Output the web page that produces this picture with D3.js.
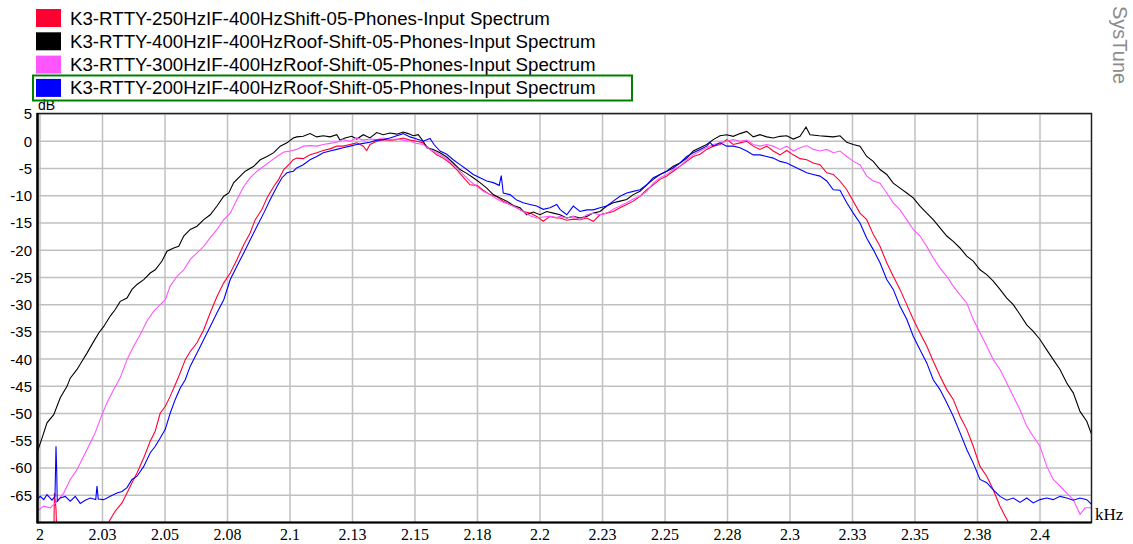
<!DOCTYPE html>
<html>
<head>
<script src="https://d3js.org/d3.v7.min.js"></script>
<style>
body { margin: 0; background: #fff; }
svg text { font-family: "Liberation Sans", Arial, sans-serif; }
</style>
</head>
<body>
<div class="chart"></div>
<script>
const w = 1133
const h = 544

const seriesNames = [
    'K3-RTTY-250HzIF-400HzShift-05-Phones-Input Spectrum',
    'K3-RTTY-400HzIF-400HzRoof-Shift-05-Phones-Input Spectrum',
    'K3-RTTY-300HzIF-400HzRoof-Shift-05-Phones-Input Spectrum',
    'K3-RTTY-200HzIF-400HzRoof-Shift-05-Phones-Input Spectrum'
]
const seriesColors = ['#ff0033', '#000000', '#ff55ff', '#0000ff']

const xTicks = [2, 2.025, 2.05, 2.075, 2.1, 2.125, 2.15, 2.175, 2.2, 2.225, 2.25, 2.275, 2.3, 2.325, 2.35, 2.375, 2.4]
const xTickLabels = ['2', '2.03', '2.05', '2.08', '2.1', '2.13', '2.15', '2.18', '2.2', '2.23', '2.25', '2.28', '2.3', '2.33', '2.35', '2.38', '2.4']
const yTicks = [5, 0, -5, -10, -15, -20, -25, -30, -35, -40, -45, -50, -55, -60, -65]

// [kHz, dB]
const red250 = [
    [2.0, -80], [2.0055, -72], [2.0058, -64.6], [2.0064, -67.5], [2.007, -76], [2.026, -78],
    [2.0275, -69.9], [2.0301, -67.9], [2.0328, -66.4], [2.0348, -64.6], [2.0368, -62.7], [2.0388, -60.9],
    [2.0415, -58.1], [2.0441, -55.1], [2.0461, -53.2], [2.0481, -49.9], [2.0501, -48.7], [2.0521, -46.8],
    [2.0541, -44.7], [2.0561, -42.5], [2.0581, -40.1], [2.0601, -38.6], [2.0628, -37.0], [2.0655, -34.6],
    [2.0681, -31.5], [2.0708, -28.5], [2.0735, -26.0], [2.0761, -24.2], [2.0788, -21.7], [2.0815, -19.0],
    [2.0841, -16.8], [2.0861, -14.4], [2.0888, -12.5], [2.0908, -10.4], [2.0935, -8.3], [2.0955, -7.0],
    [2.0975, -5.2], [2.1001, -4.0], [2.1013, -3.4], [2.1027, -3.1], [2.1053, -3.2], [2.108, -2.5],
    [2.1107, -2.1], [2.1133, -1.7], [2.116, -1.4], [2.1187, -0.9], [2.1213, -0.9], [2.124, -0.6],
    [2.1267, -0.3], [2.1293, -0.9], [2.1307, -1.7], [2.132, -0.6], [2.1347, 0.0], [2.1373, 0.3],
    [2.14, 0.2], [2.1427, 0.3], [2.1453, 0.6], [2.148, 0.2], [2.1507, 0.0], [2.1533, -0.3],
    [2.156, -1.5], [2.1587, -2.5], [2.1613, -3.1], [2.164, -4.0], [2.1667, -5.2], [2.1693, -6.6],
    [2.172, -8.0], [2.1747, -8.1], [2.1773, -9.0], [2.18, -9.8], [2.1827, -10.2], [2.1853, -11.0],
    [2.188, -11.6], [2.1907, -12.2], [2.1933, -12.9], [2.196, -13.2], [2.1987, -13.8], [2.2013, -14.7],
    [2.204, -13.8], [2.2067, -14.1], [2.208, -14.1], [2.2107, -14.5], [2.2133, -14.3], [2.216, -14.4],
    [2.2187, -14.1], [2.2213, -14.7], [2.224, -13.5], [2.2267, -13.2], [2.2293, -12.9], [2.232, -12.2],
    [2.2347, -11.6], [2.2373, -11.0], [2.24, -10.1], [2.2427, -8.9], [2.2453, -8.0], [2.248, -7.0],
    [2.2507, -6.4], [2.2533, -5.5], [2.256, -4.6], [2.2587, -3.7], [2.2613, -2.8], [2.264, -2.4],
    [2.2667, -1.5], [2.2693, -0.9], [2.272, -0.6], [2.2747, 0.3], [2.2773, -0.6], [2.28, -0.3],
    [2.2827, 0.0], [2.2853, -0.9], [2.288, -1.5], [2.2907, -0.9], [2.2933, -1.8], [2.296, -2.5],
    [2.2987, -1.7], [2.3013, -2.5], [2.304, -3.2], [2.3067, -3.4], [2.3093, -4.0], [2.312, -4.3],
    [2.3147, -5.8], [2.3173, -6.1], [2.32, -7.3], [2.3227, -8.9], [2.3253, -11.0], [2.328, -13.2],
    [2.3307, -14.4], [2.3333, -17.1], [2.336, -19.3], [2.3387, -22.3], [2.3413, -24.8], [2.344, -27.2],
    [2.3467, -30.0], [2.3493, -32.7], [2.352, -35.2], [2.3547, -37.6], [2.3573, -40.4], [2.36, -43.1],
    [2.3627, -45.6], [2.3653, -47.4], [2.368, -50.5], [2.3707, -52.9], [2.3733, -56.0], [2.376, -59.7],
    [2.3787, -61.5], [2.3813, -64.0], [2.384, -67.0], [2.386, -68.8], [2.3877, -70.2], [2.392, -76]
]

const black400 = [
    [1.9988, -57.2], [2.0008, -54.5], [2.0028, -51.7], [2.0055, -50.2], [2.0081, -47.1], [2.0108, -45.0],
    [2.0121, -43.5], [2.0148, -41.9], [2.0168, -40.4], [2.0188, -38.9], [2.0208, -37.3], [2.0235, -35.2],
    [2.0255, -34.0], [2.0281, -32.1], [2.0301, -30.9], [2.0321, -29.4], [2.0348, -28.8], [2.0368, -27.2],
    [2.0388, -26.3], [2.0415, -25.4], [2.0441, -24.2], [2.0461, -23.6], [2.0488, -22.0], [2.0508, -20.2],
    [2.0535, -19.6], [2.0555, -19.3], [2.0575, -17.4], [2.0601, -16.2], [2.0628, -15.6], [2.0655, -14.4],
    [2.0681, -13.5], [2.0708, -11.9], [2.0735, -10.1], [2.0755, -9.5], [2.0775, -7.6], [2.0801, -6.4],
    [2.0821, -5.5], [2.0855, -4.6], [2.0881, -3.4], [2.0908, -2.8], [2.0935, -2.1], [2.0961, -0.9],
    [2.0988, -0.3], [2.1013, 0.6], [2.1027, 0.8], [2.1053, 0.9], [2.108, 1.4], [2.1107, 0.8],
    [2.1133, 1.0], [2.116, 0.8], [2.1187, 1.2], [2.12, 0.2], [2.122, 0.6], [2.1247, 0.9],
    [2.1267, 0.4], [2.1293, 1.2], [2.132, 0.6], [2.1347, 1.6], [2.1373, 1.2], [2.14, 1.5],
    [2.1427, 1.3], [2.1453, 1.7], [2.1473, 1.4], [2.1493, 1.0], [2.1513, 1.2], [2.1533, 0.0],
    [2.1547, -1.2], [2.1573, -1.5], [2.16, -2.1], [2.1627, -2.9], [2.1653, -4.0], [2.168, -5.2],
    [2.1707, -5.9], [2.1733, -6.7], [2.176, -7.6], [2.1787, -8.6], [2.1813, -9.8], [2.184, -10.4],
    [2.1867, -11.0], [2.1893, -11.8], [2.192, -12.2], [2.1947, -13.5], [2.1973, -13.0], [2.2, -13.5],
    [2.2027, -12.9], [2.2053, -13.2], [2.208, -13.5], [2.2107, -14.1], [2.2133, -13.8], [2.216, -14.1],
    [2.2187, -13.8], [2.2213, -13.2], [2.224, -12.9], [2.2267, -11.9], [2.2293, -11.3], [2.232, -11.0],
    [2.2347, -10.7], [2.2373, -9.8], [2.24, -9.2], [2.2427, -8.0], [2.2453, -7.0], [2.248, -6.1],
    [2.2507, -5.5], [2.2533, -4.6], [2.256, -4.0], [2.2587, -3.1], [2.2613, -1.8], [2.264, -1.2],
    [2.2667, -0.6], [2.2693, 0.3], [2.272, 1.0], [2.2747, 1.2], [2.2773, 0.9], [2.28, 1.4],
    [2.2827, 1.8], [2.2853, 0.8], [2.288, 1.2], [2.2907, 0.8], [2.2933, 0.6], [2.296, 0.9],
    [2.2987, 1.0], [2.3013, 0.4], [2.304, 0.9], [2.3064, 2.6], [2.308, 1.2], [2.3117, 1.0],
    [2.3147, 0.9], [2.3173, 0.8], [2.32, 1.0], [2.3227, -0.2], [2.3253, -0.6], [2.328, -0.9],
    [2.3307, -2.8], [2.3333, -3.7], [2.336, -5.2], [2.3387, -6.1], [2.3413, -7.7], [2.344, -8.6],
    [2.3467, -9.5], [2.3493, -10.4], [2.352, -11.9], [2.3547, -13.2], [2.3573, -14.4], [2.36, -15.9],
    [2.3627, -17.4], [2.3653, -18.4], [2.368, -19.6], [2.3707, -21.1], [2.3733, -22.0], [2.376, -23.6],
    [2.3787, -24.5], [2.3813, -25.7], [2.384, -27.2], [2.3867, -28.8], [2.3893, -30.0], [2.392, -31.8],
    [2.3947, -33.7], [2.3973, -34.9], [2.4, -36.4], [2.4027, -38.3], [2.4053, -40.1], [2.408, -41.9],
    [2.4107, -44.4], [2.4133, -46.2], [2.416, -49.6], [2.4187, -51.4], [2.4207, -53.9]
]

const magenta300 = [
    [1.9988, -67.9], [2.0015, -67.0], [2.0041, -67.3], [2.0068, -66.1], [2.0095, -64.6], [2.0121, -62.1],
    [2.0148, -60.3], [2.0175, -57.8], [2.0201, -55.4], [2.0221, -53.5], [2.0248, -50.2], [2.0268, -48.0],
    [2.0295, -45.6], [2.0321, -43.4], [2.0348, -40.1], [2.0375, -37.6], [2.0401, -35.5], [2.0428, -33.0],
    [2.0455, -31.2], [2.0481, -30.0], [2.0501, -29.1], [2.0521, -26.6], [2.0548, -24.8], [2.0575, -23.6],
    [2.0601, -21.7], [2.0628, -20.5], [2.0655, -19.3], [2.0681, -17.7], [2.0708, -16.2], [2.0735, -14.4],
    [2.0761, -13.2], [2.0788, -10.7], [2.0815, -8.3], [2.0841, -6.7], [2.0868, -5.5], [2.0895, -4.6],
    [2.0921, -3.7], [2.0948, -2.8], [2.0975, -2.0], [2.1001, -1.8], [2.1027, -1.5], [2.1053, -0.9],
    [2.108, -0.8], [2.1107, -0.9], [2.1133, -0.6], [2.116, -0.4], [2.1187, -0.2], [2.1213, 0.3],
    [2.124, 0.0], [2.1267, 0.6], [2.1293, 0.2], [2.132, 0.4], [2.1347, 0.3], [2.1373, 0.6],
    [2.14, 0.3], [2.1427, 0.4], [2.1453, 0.2], [2.148, 0.0], [2.1507, -0.4], [2.1533, -0.6],
    [2.156, -1.5], [2.1587, -2.1], [2.1613, -2.8], [2.164, -3.7], [2.1667, -4.9], [2.1693, -6.1],
    [2.172, -7.3], [2.1747, -8.3], [2.1773, -9.2], [2.18, -9.8], [2.1827, -10.6], [2.1853, -11.2],
    [2.188, -11.6], [2.1907, -12.2], [2.1933, -12.9], [2.196, -13.7], [2.1987, -14.1], [2.2013, -13.9],
    [2.204, -13.8], [2.2067, -14.0], [2.208, -13.8], [2.2107, -14.1], [2.2133, -13.8], [2.216, -14.4],
    [2.2187, -13.5], [2.2213, -13.2], [2.224, -13.5], [2.2267, -13.2], [2.2293, -12.5], [2.232, -11.9],
    [2.2347, -11.3], [2.2373, -10.6], [2.24, -10.1], [2.2427, -9.2], [2.2453, -7.7], [2.248, -6.7],
    [2.2507, -6.1], [2.2533, -5.2], [2.256, -4.6], [2.2587, -3.4], [2.2613, -2.5], [2.264, -1.8],
    [2.2667, -1.2], [2.2693, -0.6], [2.272, -0.3], [2.2747, 0.0], [2.2773, 0.3], [2.28, 0.0],
    [2.2827, 0.2], [2.2853, -0.6], [2.288, -0.9], [2.2907, -0.6], [2.2933, -0.9], [2.296, -1.5],
    [2.2987, -0.9], [2.3013, -1.8], [2.304, -1.2], [2.3067, -0.8], [2.3093, -1.5], [2.312, -1.8],
    [2.3147, -1.5], [2.3173, -2.1], [2.32, -1.8], [2.3227, -2.8], [2.3253, -3.7], [2.328, -4.3],
    [2.3307, -6.4], [2.3333, -7.3], [2.336, -7.7], [2.3387, -9.5], [2.3413, -11.3], [2.344, -12.6],
    [2.3467, -14.4], [2.3493, -16.2], [2.352, -17.4], [2.3547, -19.3], [2.3573, -21.4], [2.36, -23.3],
    [2.3627, -24.8], [2.3653, -26.6], [2.368, -28.2], [2.3707, -29.7], [2.3733, -32.7], [2.376, -35.2],
    [2.3787, -37.6], [2.3813, -40.1], [2.384, -41.9], [2.3867, -44.4], [2.3893, -46.8], [2.392, -49.3],
    [2.3947, -52.3], [2.3973, -54.2], [2.4, -56.0], [2.4027, -59.7], [2.4053, -62.1], [2.408, -63.3],
    [2.4107, -64.6], [2.4133, -65.8], [2.416, -68.5], [2.418, -67.3], [2.4207, -67.3]
]

const blue200 = [
    [1.9988, -65.8], [2.0001, -65.2], [2.0015, -65.8], [2.0028, -64.9], [2.0048, -65.9], [2.006, -65.2],
    [2.0064, -56.0], [2.0067, -60.9], [2.0069, -66.1], [2.0081, -65.5], [2.0101, -65.2], [2.0121, -66.1],
    [2.0141, -65.2], [2.0161, -66.5], [2.0181, -65.9], [2.0201, -65.5], [2.0223, -65.8], [2.0228, -63.3],
    [2.0233, -65.7], [2.0255, -65.8], [2.0281, -65.2], [2.0308, -64.6], [2.0328, -64.3], [2.0348, -63.6],
    [2.0368, -62.1], [2.0388, -61.5], [2.0415, -59.7], [2.0441, -57.2], [2.0461, -56.0], [2.0481, -54.5],
    [2.0501, -52.9], [2.0521, -49.9], [2.0541, -47.4], [2.0561, -45.3], [2.0581, -43.8], [2.0601, -41.3],
    [2.0628, -38.9], [2.0655, -36.4], [2.0681, -34.0], [2.0708, -31.5], [2.0735, -29.1], [2.0761, -25.4],
    [2.0788, -22.9], [2.0815, -20.5], [2.0841, -18.1], [2.0868, -15.6], [2.0895, -13.2], [2.0921, -10.7],
    [2.0948, -8.3], [2.0968, -6.7], [2.0988, -5.8], [2.1013, -5.5], [2.1027, -4.9], [2.1053, -4.3],
    [2.108, -3.4], [2.1107, -2.8], [2.1133, -2.1], [2.116, -1.8], [2.1187, -1.5], [2.1213, -1.2],
    [2.124, -0.9], [2.1267, -0.6], [2.1293, -0.4], [2.132, -0.2], [2.1347, 0.2], [2.1373, 0.3],
    [2.14, 0.6], [2.1427, 1.0], [2.1453, 1.4], [2.148, 0.8], [2.1507, 0.4], [2.1533, 0.0],
    [2.156, 0.5], [2.1576, -0.6], [2.16, -1.8], [2.1627, -2.4], [2.1653, -3.4], [2.168, -4.3],
    [2.1707, -5.2], [2.1733, -6.1], [2.176, -6.7], [2.1787, -7.3], [2.1813, -7.6], [2.1837, -8.1],
    [2.1845, -6.3], [2.1853, -9.5], [2.188, -9.8], [2.1907, -10.8], [2.1933, -11.3], [2.196, -11.6],
    [2.1987, -11.9], [2.2013, -12.5], [2.204, -12.2], [2.2067, -11.6], [2.208, -12.5], [2.2107, -13.5],
    [2.2133, -11.9], [2.216, -12.9], [2.2187, -12.6], [2.2213, -12.6], [2.224, -12.2], [2.2267, -11.9],
    [2.2293, -11.0], [2.232, -10.1], [2.2347, -9.5], [2.2373, -9.2], [2.24, -8.9], [2.2427, -8.0],
    [2.2453, -6.7], [2.248, -6.1], [2.2507, -5.5], [2.2533, -4.9], [2.256, -4.0], [2.2587, -2.8],
    [2.2613, -2.1], [2.264, -1.5], [2.2667, -0.9], [2.268, -0.2], [2.2693, -0.9], [2.272, -0.3],
    [2.2747, -0.9], [2.2773, -0.9], [2.28, -1.2], [2.2827, -1.8], [2.2853, -2.5], [2.288, -2.5],
    [2.2907, -2.8], [2.2933, -3.1], [2.296, -3.7], [2.2987, -4.0], [2.3013, -4.6], [2.304, -5.2],
    [2.3067, -5.8], [2.3093, -6.1], [2.312, -6.4], [2.3147, -7.3], [2.3173, -8.9], [2.32, -9.0],
    [2.3227, -11.3], [2.3253, -13.2], [2.328, -15.0], [2.3307, -17.8], [2.3333, -19.9], [2.336, -22.3],
    [2.3387, -25.4], [2.3413, -27.2], [2.344, -30.3], [2.3467, -32.7], [2.3493, -35.8], [2.352, -38.3],
    [2.3547, -40.7], [2.3573, -43.8], [2.36, -45.6], [2.3627, -48.0], [2.3653, -50.5], [2.368, -53.5],
    [2.3707, -56.6], [2.3733, -59.1], [2.376, -62.1], [2.3787, -62.7], [2.3813, -64.0], [2.384, -65.2],
    [2.3867, -65.9], [2.3893, -65.5], [2.392, -66.3], [2.3947, -65.5], [2.3973, -66.4], [2.4, -65.8],
    [2.4027, -65.5], [2.4053, -65.8], [2.408, -65.2], [2.4107, -65.5], [2.4133, -65.9], [2.416, -65.5],
    [2.4187, -65.8], [2.4207, -66.7]
]

const allSeries = [red250, black400, magenta300, blue200]

const plot = {left: 37.5, right: 1091.5, top: 114, bottom: 522.5}

const svg = d3.select('.chart')
    .append('svg')
    .attr('width', w)
    .attr('height', h)

const x = d3.scaleLinear().domain([1.999, 2.4206]).range([plot.left, plot.right])
const y = d3.scaleLinear().domain([5, -70]).range([plot.top, plot.bottom])

// grid
svg.append('g')
    .selectAll('line')
    .data(xTicks)
    .enter()
    .append('line')
    .attr('x1', d => x(d)).attr('x2', d => x(d))
    .attr('y1', plot.top).attr('y2', plot.bottom)
    .attr('stroke', '#c0c0c0')
    .attr('stroke-width', 1.5)

svg.append('g')
    .selectAll('line')
    .data(yTicks)
    .enter()
    .append('line')
    .attr('x1', plot.left).attr('x2', plot.right)
    .attr('y1', d => y(d)).attr('y2', d => y(d))
    .attr('stroke', '#c0c0c0')
    .attr('stroke-width', 1.5)

// curves
svg.append('clipPath')
    .attr('id', 'clip')
    .append('rect')
    .attr('x', plot.left).attr('y', plot.top - 1)
    .attr('width', plot.right - plot.left).attr('height', plot.bottom - plot.top + 1)

const line = d3.line()
    .x(d => x(d[0]))
    .y(d => y(d[1]))

svg.append('g')
    .attr('clip-path', 'url(#clip)')
    .selectAll('path')
    .data(allSeries)
    .enter()
    .append('path')
    .attr('d', line)
    .attr('fill', 'none')
    .attr('stroke', (d, i) => seriesColors[i])
    .attr('stroke-width', 1.1)

// frame
svg.append('rect')
    .attr('x', plot.left).attr('y', plot.top - 0.5)
    .attr('width', plot.right - plot.left).attr('height', plot.bottom - plot.top + 0.5)
    .attr('fill', 'none')
    .attr('stroke', '#202020')
    .attr('stroke-width', 1.5)
svg.append('line')
    .attr('x1', plot.left).attr('x2', plot.left)
    .attr('y1', plot.top - 1).attr('y2', plot.bottom + 1)
    .attr('stroke', '#000').attr('stroke-width', 2.5)
svg.append('line')
    .attr('x1', plot.left).attr('x2', plot.right)
    .attr('y1', plot.bottom).attr('y2', plot.bottom)
    .attr('stroke', '#000').attr('stroke-width', 2)

// axes labels
svg.append('g')
    .selectAll('text')
    .data(yTicks)
    .enter()
    .append('text')
    .attr('x', 32)
    .attr('y', d => y(d))
    .attr('dy', '0.36em')
    .attr('text-anchor', 'end')
    .style('font-size', '15px')
    .text(d => d)

svg.append('g')
    .selectAll('text')
    .data(xTicks)
    .enter()
    .append('text')
    .attr('x', d => x(d))
    .attr('y', 540)
    .attr('text-anchor', 'middle')
    .style('font-family', '"Liberation Serif", "Times New Roman", serif')
    .style('font-size', '16px')
    .text((d, i) => xTickLabels[i])

svg.append('text')
    .attr('x', 1095)
    .attr('y', 520)
    .style('font-family', '"Liberation Serif", "Times New Roman", serif')
    .style('font-size', '17px')
    .text('kHz')

svg.append('text')
    .attr('x', 38)
    .attr('y', 110)
    .style('font-size', '14px')
    .text('dB')

svg.append('text')
    .attr('transform', 'translate(1113,6) rotate(90)')
    .style('font-size', '20px')
    .attr('fill', '#8c8c8c')
    .text('SysTune')

// legend
const legend = svg.append('g')
    .selectAll('g')
    .data(seriesNames)
    .enter()
    .append('g')
    .attr('transform', (d, i) => 'translate(36,' + (9 + i * 23.3) + ')')

legend.append('rect')
    .attr('width', 25)
    .attr('height', 18)
    .attr('fill', (d, i) => seriesColors[i])

legend.append('text')
    .attr('x', 34)
    .attr('y', 15.5)
    .style('font-size', '18.7px')
    .text(d => d)

svg.append('rect')
    .attr('x', 33)
    .attr('y', 75.5)
    .attr('width', 599)
    .attr('height', 25)
    .attr('fill', 'none')
    .attr('stroke', '#008000')
    .attr('stroke-width', 2)
</script>
</body>
</html>
